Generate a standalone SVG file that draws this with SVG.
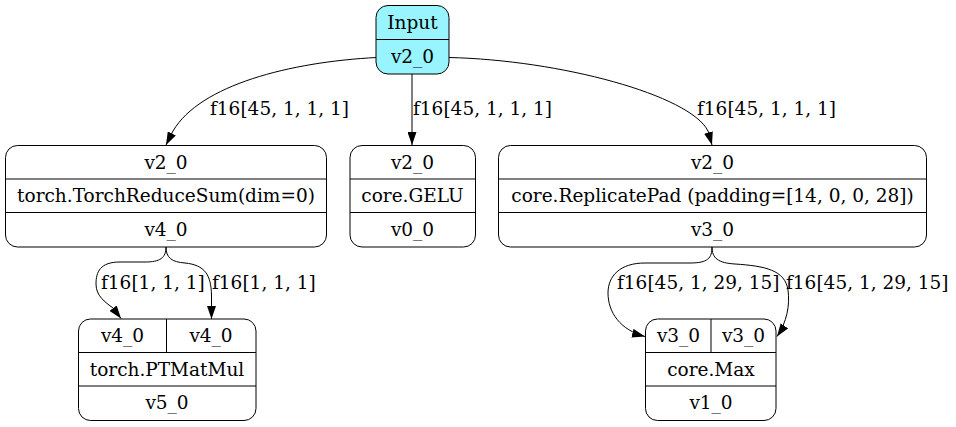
<svg xmlns="http://www.w3.org/2000/svg" width="956" height="427" viewBox="0 0 956 427">
  <defs>
    <marker id="arrow" viewBox="0 0 13 9" refX="13" refY="4.5" markerWidth="13" markerHeight="9" markerUnits="userSpaceOnUse" orient="auto">
      <path d="M0,0 L13,4.5 L0,9 z" fill="#000"/>
    </marker>
    <style>
      text { font-family: "DejaVu Serif", "Liberation Serif", serif; font-size: 18.5px; fill: #000; }
      .c { text-anchor: middle; }
      .box { fill: #fff; stroke: #000; stroke-width: 1; }
      .input { fill: #98f5ff; stroke: #000; stroke-width: 1; }
      .sep { stroke: #000; stroke-width: 1; fill: none; }
      .edge { fill: none; stroke: #000; stroke-width: 1; marker-end: url(#arrow); }
    </style>
  </defs>
  <rect width="956" height="427" fill="#fff"/>

  <!-- connectors -->
  <g id="edges">
    <path class="edge" d="M376.5,57.5 C290,62 200,85 173,131 L166,145"/>
    <text x="210" y="115">f16[45, 1, 1, 1]</text>
    <path class="edge" d="M412,74 L412,145"/>
    <text x="413" y="115">f16[45, 1, 1, 1]</text>
    <path class="edge" d="M449,57.5 C560,60 690,95 708,131 L712,145"/>
    <text x="697" y="115">f16[45, 1, 1, 1]</text>

    <path class="edge" d="M166,247 C166,258 160,262 145,262 L120,262 C100,262 96,272 96,284 C96,296 105,302 113,308 L121,318.5"/>
    <text x="101" y="289">f16[1, 1, 1]</text>
    <path class="edge" d="M166,247 C166,258 172,262 185,263 C205,265 211,275 211.5,295 L211.5,319"/>
    <text x="212" y="289">f16[1, 1, 1]</text>

    <path class="edge" d="M712,247 C712,258 708,263 690,263 L645,263 C620,263 608,276 608,293 C608,312 620,330 645,336.5"/>
    <text x="617" y="289">f16[45, 1, 29, 15]</text>
    <path class="edge" d="M712,247 C712,258 718,263 735,264 C765,266 785,270 788,290 C790,305 787,322 777,336.5"/>
    <text x="786" y="289">f16[45, 1, 29, 15]</text>
  </g>

  <!-- Input -->
  <g id="input">
    <rect class="input" x="376" y="5.5" width="73" height="68.5" rx="12"/>
    <line class="sep" x1="376" y1="39.5" x2="449" y2="39.5"/>
    <text class="c" x="412.5" y="29">Input</text>
    <text class="c" x="412.5" y="63">v2_0</text>
  </g>

  <!-- torch.TorchReduceSum -->
  <g id="reducesum">
    <rect class="box" x="5.5" y="145.5" width="321" height="101.5" rx="12"/>
    <line class="sep" x1="5.5" y1="179" x2="326.5" y2="179"/>
    <line class="sep" x1="5.5" y1="212.5" x2="326.5" y2="212.5"/>
    <text class="c" x="166" y="168.5">v2_0</text>
    <text class="c" x="166" y="202">torch.TorchReduceSum(dim=0)</text>
    <text class="c" x="166" y="235.5">v4_0</text>
  </g>

  <!-- core.GELU -->
  <g id="gelu">
    <rect class="box" x="350" y="145.5" width="125.5" height="101.5" rx="12"/>
    <line class="sep" x1="350" y1="179" x2="475.5" y2="179"/>
    <line class="sep" x1="350" y1="212.5" x2="475.5" y2="212.5"/>
    <text class="c" x="412.5" y="168.5">v2_0</text>
    <text class="c" x="412.5" y="202">core.GELU</text>
    <text class="c" x="412.5" y="235.5">v0_0</text>
  </g>

  <!-- core.ReplicatePad -->
  <g id="replicatepad">
    <rect class="box" x="498.5" y="145.5" width="428" height="101.5" rx="12"/>
    <line class="sep" x1="498.5" y1="179" x2="926.5" y2="179"/>
    <line class="sep" x1="498.5" y1="212.5" x2="926.5" y2="212.5"/>
    <text class="c" x="712.5" y="168.5">v2_0</text>
    <text class="c" x="712.5" y="202">core.ReplicatePad (padding=[14, 0, 0, 28])</text>
    <text class="c" x="712.5" y="235.5">v3_0</text>
  </g>

  <!-- torch.PTMatMul -->
  <g id="matmul">
    <rect class="box" x="78.5" y="319" width="177.5" height="101.5" rx="12"/>
    <line class="sep" x1="166.5" y1="319" x2="166.5" y2="352.5"/>
    <line class="sep" x1="78.5" y1="352.5" x2="256" y2="352.5"/>
    <line class="sep" x1="78.5" y1="386" x2="256" y2="386"/>
    <text class="c" x="122.5" y="342">v4_0</text>
    <text class="c" x="211" y="342">v4_0</text>
    <text class="c" x="167" y="375.5">torch.PTMatMul</text>
    <text class="c" x="167" y="409">v5_0</text>
  </g>

  <!-- core.Max -->
  <g id="max">
    <rect class="box" x="645.5" y="319" width="130.5" height="101.5" rx="12"/>
    <line class="sep" x1="711" y1="319" x2="711" y2="352.5"/>
    <line class="sep" x1="645.5" y1="352.5" x2="776" y2="352.5"/>
    <line class="sep" x1="645.5" y1="386" x2="776" y2="386"/>
    <text class="c" x="678.5" y="342">v3_0</text>
    <text class="c" x="743.5" y="342">v3_0</text>
    <text class="c" x="711" y="375.5">core.Max</text>
    <text class="c" x="711" y="409">v1_0</text>
  </g>
</svg>
